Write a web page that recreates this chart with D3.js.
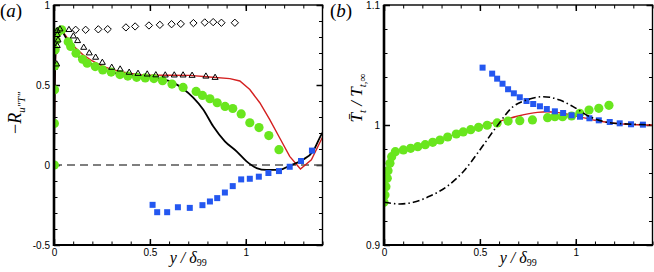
<!DOCTYPE html>
<html>
<head>
<meta charset="utf-8">
<script src="https://cdn.jsdelivr.net/npm/d3@7"></script>
<style>
    body { margin: 0; background: #fff; }
</style>
</head>
<body>
<svg id="chart" width="654" height="272"></svg>
<script>
// ---- panel (a): -R_u"T" ----
const aDiamonds = [[0.113,0.845],[0.165,0.845],[0.231,0.848],[0.280,0.849],[0.375,0.860],[0.423,0.866],[0.495,0.872],[0.552,0.876],[0.613,0.880],[0.661,0.882],[0.727,0.887],[0.786,0.891],[0.830,0.893],[0.873,0.889],[0.943,0.889]];
const aTriangles = [[0.014,0.630],[0.017,0.745],[0.021,0.780],[0.017,0.814],[0.017,0.839],[0.031,0.849],[0.078,0.845],[0.101,0.805],[0.123,0.776],[0.155,0.734],[0.184,0.699],[0.217,0.672],[0.252,0.640],[0.301,0.609],[0.345,0.598],[0.392,0.578],[0.438,0.571],[0.486,0.567],[0.531,0.562],[0.580,0.561],[0.627,0.561],[0.673,0.561],[0.720,0.559],[0.792,0.554],[0.840,0.546]];
const aCircles = [[0.002,0.0],[0.002,0.26],[0.003,0.47],[0.004,0.62],[0.006,0.72],[0.012,0.78],[0.02,0.83],[0.04,0.845],[0.074,0.770],[0.087,0.741],[0.115,0.699],[0.149,0.661],[0.173,0.636],[0.215,0.615],[0.254,0.594],[0.298,0.581],[0.344,0.565],[0.385,0.556],[0.431,0.548],[0.476,0.544],[0.521,0.540],[0.566,0.527],[0.615,0.506],[0.673,0.485],[0.741,0.460],[0.774,0.435],[0.813,0.414],[0.851,0.389],[0.892,0.366],[0.932,0.353],[0.976,0.319],[1.021,0.264],[1.069,0.234],[1.120,0.184],[1.173,0.096]];
const aSquares = [[0.514,-0.249],[0.538,-0.295],[0.590,-0.295],[0.646,-0.264],[0.708,-0.268],[0.774,-0.251],[0.813,-0.228],[0.851,-0.207],[0.891,-0.172],[0.932,-0.132],[0.976,-0.090],[1.021,-0.086],[1.068,-0.073],[1.118,-0.050],[1.173,-0.038],[1.229,-0.011],[1.288,0.025],[1.345,0.090]];
const aBlackLine = [[0,0],[0.004,0.5],[0.01,0.75],[0.02,0.835],[0.035,0.845],[0.06,0.8],[0.1,0.725],[0.135,0.67],[0.19,0.635],[0.24,0.607],[0.3,0.58],[0.35,0.566],[0.448,0.556],[0.5,0.55],[0.55,0.54],[0.621,0.515],[0.673,0.477],[0.726,0.421],[0.778,0.347],[0.830,0.242],[0.891,0.148],[0.952,0.085],[1.004,0.023],[1.056,-0.019],[1.108,-0.031],[1.177,-0.030],[1.229,-0.004],[1.298,0.033],[1.350,0.085],[1.394,0.190],[1.42,0.24]];
const aRedLine = [[0,0],[0.004,0.5],[0.01,0.76],[0.02,0.84],[0.035,0.85],[0.06,0.81],[0.1,0.745],[0.15,0.69],[0.2,0.65],[0.25,0.62],[0.3,0.598],[0.35,0.583],[0.4,0.572],[0.448,0.565],[0.5,0.562],[0.6,0.561],[0.708,0.560],[0.795,0.552],[0.917,0.540],[0.969,0.525],[1.021,0.472],[1.073,0.389],[1.125,0.284],[1.177,0.169],[1.229,0.054],[1.285,-0.025],[1.342,0.033],[1.394,0.159],[1.42,0.22]];

// ---- panel (b): Tt / Tt,inf ----
const bCircles = [[0,0.9356],[0.005,0.9417],[0.010,0.9486],[0.017,0.9556],[0.021,0.9619],[0.031,0.9681],[0.040,0.9736],[0.059,0.9778],[0.101,0.9792],[0.139,0.9806],[0.176,0.9819],[0.215,0.9836],[0.254,0.9856],[0.292,0.9875],[0.332,0.9900],[0.377,0.9925],[0.413,0.9942],[0.452,0.9961],[0.493,0.9981],[0.538,0.9998],[0.590,1.0017],[0.647,1.0033],[0.708,1.0036],[0.774,1.0042],[0.853,1.0061],[0.891,1.0069],[0.931,1.0069],[0.978,1.0075],[1.021,1.0098],[1.069,1.0125],[1.120,1.0139],[1.173,1.0164]];
const bSquares = [[0.514,1.0478],[0.564,1.0428],[0.590,1.0386],[0.618,1.0344],[0.647,1.0298],[0.677,1.0264],[0.708,1.0231],[0.743,1.0200],[0.778,1.0175],[0.813,1.0156],[0.849,1.0133],[0.891,1.0114],[0.934,1.0100],[0.978,1.0081],[1.022,1.0069],[1.071,1.0056],[1.120,1.0039],[1.177,1.0025],[1.229,1.0014],[1.288,1.0006],[1.350,1.0003]];
const bRedLine = [[0,0.935],[0.01,0.95],[0.02,0.963],[0.035,0.972],[0.06,0.978],[0.1,0.9795],[0.2,0.983],[0.3,0.988],[0.4,0.994],[0.5,0.999],[0.6,1.003],[0.7,1.0075],[0.8,1.0105],[0.85,1.011],[0.9,1.0105],[0.95,1.0092],[1.0,1.0075],[1.1,1.004],[1.2,1.0015],[1.3,1.0004],[1.4,1.0]];
const bDashDot = [[0,0.9356],[0.083,0.9342],[0.153,0.9356],[0.24,0.9408],[0.327,0.9486],[0.413,0.9611],[0.5,0.9792],[0.587,0.9986],[0.673,1.0153],[0.743,1.0208],[0.83,1.0236],[0.917,1.0208],[0.986,1.0153],[1.073,1.0069],[1.177,1.0019],[1.299,1.0006],[1.4,1.0]];

// tick labels
const xMajor = [0, 0.5, 1];
const aYMajor = [-0.5, 0, 0.5, 1];
const bYMajor = [0.9, 1, 1.1];

const green = '#69e61e';
const blue = '#2457f0';
const red = '#d42020';

const svg = d3.select('#chart');

function drawPanel(p) {
    const top = 5, bottom = 245;
    const x = d3.scaleLinear().domain([0, 1.4]).range([p.left, p.right]);
    const y = d3.scaleLinear().domain(p.yDomain).range([bottom, top]);
    const g = svg.append('g');

    const clipId = 'clip' + p.name;
    g.append('clipPath').attr('id', clipId)
        .append('rect')
        .attr('x', p.left).attr('y', top)
        .attr('width', p.right - p.left).attr('height', bottom - top);

    const fmt = d => String(d);

    // ticks: inward on all four sides
    function axis(gen, tx, ty, values, size, labels) {
        const a = g.append('g')
            .attr('transform', 'translate(' + tx + ',' + ty + ')')
            .call(gen.tickValues(values).tickSize(-size).tickPadding(4).tickFormat(labels ? fmt : ''));
        a.select('.domain').remove();
        a.selectAll('line').attr('stroke', '#000').attr('stroke-width', size > 4 ? 1.5 : 1);
        a.attr('font-family', 'Liberation Sans, Arial, sans-serif').attr('font-size', 10);
        a.selectAll('text').attr('fill', '#000');
        return a;
    }
    axis(d3.axisLeft(y), p.left, 0, p.yMinor, 3.5, false);
    axis(d3.axisLeft(y), p.left, 0, p.yMajor, 6, true);
    axis(d3.axisRight(y), p.right, 0, p.yMinor, 3.5, false);
    axis(d3.axisRight(y), p.right, 0, p.yMajor, 6, false);
    axis(d3.axisBottom(x), 0, bottom, p.xMinor, 3.5, false);
    axis(d3.axisBottom(x), 0, bottom, xMajor, 6, true).selectAll('text').attr('y', 4);
    axis(d3.axisTop(x), 0, top, p.xMinor, 3.5, false);
    axis(d3.axisTop(x), 0, top, xMajor, 6, false);

    const plot = g.append('g').attr('clip-path', 'url(#' + clipId + ')');
    p.drawData(plot, x, y);

    // frame
    g.append('rect')
        .attr('x', p.left).attr('y', top)
        .attr('width', p.right - p.left).attr('height', bottom - top)
        .attr('fill', 'none').attr('stroke', '#000').attr('stroke-width', 1.4);
    g.append('line')
        .attr('x1', p.left).attr('x2', p.left).attr('y1', top).attr('y2', bottom + 1)
        .attr('stroke', '#000').attr('stroke-width', 2.6);
    g.append('line')
        .attr('x1', p.left - 1).attr('x2', p.right).attr('y1', bottom).attr('y2', bottom)
        .attr('stroke', '#000').attr('stroke-width', 2);

    // x title
    const xt = g.append('text')
        .attr('x', (p.left + p.right) / 2)
        .attr('y', 263)
        .attr('text-anchor', 'middle')
        .attr('font-family', 'Liberation Serif, Times New Roman, serif')
        .attr('font-size', 16)
        .attr('font-style', 'italic');
    xt.append('tspan').text('y / δ');
    xt.append('tspan').attr('font-size', 10).attr('font-style', 'normal').attr('dy', 3).text('99');

    // panel letter
    const pl = g.append('text')
        .attr('x', p.left - 54)
        .attr('y', 17)
        .attr('font-family', 'Liberation Serif, Times New Roman, serif')
        .attr('font-size', 19);
    pl.append('tspan').text('(');
    pl.append('tspan').attr('font-style', 'italic').text(p.name);
    pl.append('tspan').text(')');

    return { x, y };
}

const line = (x, y, curve) => d3.line().x(d => x(d[0])).y(d => y(d[1])).curve(curve);

function squares(plot, data, x, y) {
    plot.selectAll(null).data(data).enter().append('rect')
        .attr('x', d => x(d[0]) - 3).attr('y', d => y(d[1]) - 3)
        .attr('width', 6).attr('height', 6)
        .attr('fill', blue);
}
function circles(plot, data, x, y) {
    plot.selectAll(null).data(data).enter().append('circle')
        .attr('cx', d => x(d[0])).attr('cy', d => y(d[1]))
        .attr('r', 4.6)
        .attr('fill', green);
}

// panel (a)
drawPanel({
    name: 'a', left: 54, right: 322.5,
    yDomain: [-0.5, 1],
    yMajor: aYMajor,
    yMinor: d3.range(-5, 11).map(i => i / 10),
    xMinor: d3.range(0, 15).map(i => i / 10),
    drawData: (plot, x, y) => {
        plot.append('line')
            .attr('x1', x(0)).attr('x2', x(1.4)).attr('y1', y(0)).attr('y2', y(0))
            .attr('stroke', '#555').attr('stroke-width', 1.6).attr('stroke-dasharray', '8,5');
        plot.append('path').attr('d', line(x, y, d3.curveLinear)(aRedLine))
            .attr('fill', 'none').attr('stroke', red).attr('stroke-width', 1.4);
        plot.append('path').attr('d', line(x, y, d3.curveMonotoneX)(aBlackLine))
            .attr('fill', 'none').attr('stroke', '#000').attr('stroke-width', 1.8);
        circles(plot, aCircles, x, y);
        squares(plot, aSquares, x, y);
        plot.selectAll(null).data(aTriangles).enter().append('path')
            .attr('d', d3.symbol(d3.symbolTriangle2, 26))
            .attr('transform', d => 'translate(' + x(d[0]) + ',' + y(d[1]) + ')')
            .attr('fill', 'none').attr('stroke', '#000').attr('stroke-width', 1);
        plot.selectAll(null).data(aDiamonds).enter().append('path')
            .attr('d', d3.symbol(d3.symbolDiamond2, 34))
            .attr('transform', d => 'translate(' + x(d[0]) + ',' + y(d[1]) + ')')
            .attr('fill', 'none').attr('stroke', '#000').attr('stroke-width', 1);
    }
});

// panel (b)
drawPanel({
    name: 'b', left: 384, right: 652.5,
    yDomain: [0.9, 1.1],
    yMajor: bYMajor,
    yMinor: d3.range(45, 56).map(i => i / 50),
    xMinor: d3.range(0, 15).map(i => i / 10),
    drawData: (plot, x, y) => {
        plot.append('path').attr('d', line(x, y, d3.curveMonotoneX)(bRedLine))
            .attr('fill', 'none').attr('stroke', red).attr('stroke-width', 1.4);
        circles(plot, bCircles, x, y);
        squares(plot, bSquares, x, y);
        plot.append('path').attr('d', line(x, y, d3.curveMonotoneX)(bDashDot))
            .attr('fill', 'none').attr('stroke', '#000').attr('stroke-width', 1.6)
            .attr('stroke-dasharray', '7,3,1.5,3');
    }
});

// y titles
const ya = svg.append('text')
    .attr('transform', 'translate(21,113) rotate(-90)')
    .attr('text-anchor', 'middle')
    .attr('font-family', 'Liberation Serif, Times New Roman, serif')
    .attr('font-size', 18);
ya.append('tspan').text('−');
ya.append('tspan').attr('font-style', 'italic').text('R');
ya.append('tspan').attr('font-style', 'italic').attr('font-size', 11).attr('dy', 4).text('u″T″');

const yb = svg.append('text')
    .attr('transform', 'translate(362,98) rotate(-90)')
    .attr('text-anchor', 'middle')
    .attr('font-family', 'Liberation Serif, Times New Roman, serif')
    .attr('font-size', 17)
    .attr('font-style', 'italic');
yb.append('tspan').text('T\u0304');
yb.append('tspan').attr('font-size', 11).attr('dy', 4).text('t');
yb.append('tspan').attr('dy', -4).text(' / T');
yb.append('tspan').attr('font-size', 11).attr('dy', 4).text('t,∞');
</script>
</body>
</html>
